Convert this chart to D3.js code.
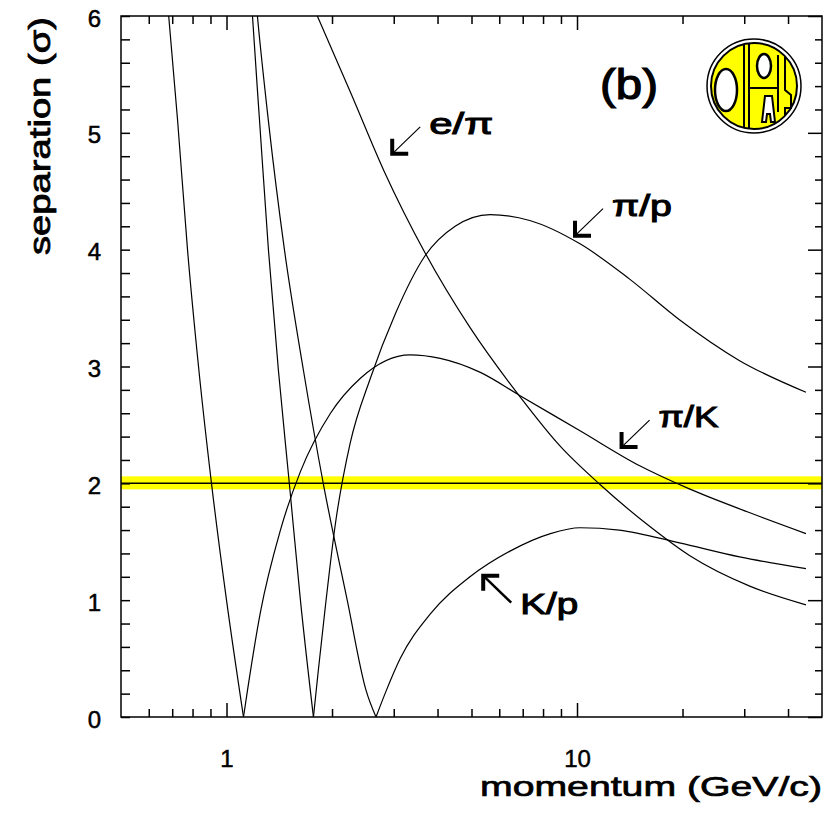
<!DOCTYPE html>
<html>
<head>
<meta charset="utf-8">
<script src="https://cdn.jsdelivr.net/npm/d3@7"></script>
<style>
body { margin: 0; background: #fff; }
svg { display: block; }
text { font-family: "Liberation Sans", Arial, sans-serif; fill: #000; }
</style>
</head>
<body>
<svg id="chart"></svg>
<script>
// separation curves, [momentum GeV/c, separation sigma]
var piKLow  = [[0.66, 6.5], [0.684, 6.0], [0.725, 5.11], [0.774, 4.0], [0.832, 3.0], [0.906, 2.0], [1.0, 1.0], [1.118, 0]];
var piKHigh = [[1.118, 0], [1.148, 0.23], [1.25, 0.9], [1.425, 1.6], [1.625, 2.1], [1.98, 2.6], [2.41, 2.9], [3.34, 3.1],
               [4.07, 3.07], [5.3, 2.95], [6.88, 2.75], [10.2, 2.45], [15.1, 2.15], [21.0, 1.95], [31.0, 1.75], [45, 1.57]];
var piPLow  = [[1.16, 6.5], [1.186, 6.0], [1.242, 5.11], [1.317, 4.0], [1.406, 2.97], [1.512, 1.99], [1.625, 1.0], [1.77, 0]];
var piPHigh = [[1.77, 0], [1.828, 0.4], [1.915, 0.95], [2.044, 1.65], [2.256, 2.35], [2.573, 2.9], [3.03, 3.45], [3.69, 3.95],
               [4.49, 4.2], [5.65, 4.3], [7.33, 4.25], [10.2, 4.05], [14.1, 3.75], [19.6, 3.4], [29.1, 3.05], [45, 2.78]];
var kPLow   = [[1.2, 6.3], [1.225, 6.0], [1.317, 5.1], [1.463, 4.0], [1.657, 2.97], [1.888, 2.0], [2.21, 1.0], [2.5, 0.23], [2.67, 0]];
var kPHigh  = [[2.67, 0], [2.86, 0.23], [3.13, 0.5], [3.81, 0.88], [4.95, 1.2], [6.44, 1.42], [8.4, 1.57], [10.2, 1.62],
               [13.2, 1.6], [19.6, 1.49], [29.1, 1.37], [45, 1.27]];
var ePi     = [[1.625, 6.33], [1.816, 6.0], [2.256, 5.35], [2.818, 4.67], [3.69, 3.97], [4.96, 3.33], [6.88, 2.74], [8.94, 2.32],
               [11.63, 1.99], [16.14, 1.63], [20.99, 1.38], [31.1, 1.12], [45, 0.96]];

var xMajorTicks = [1, 10];
var xMinorTicks = [0.6, 0.7, 0.8, 0.9, 2, 3, 4, 5, 6, 7, 8, 9, 20, 30, 40];
var yMajorTicks = [0, 1, 2, 3, 4, 5, 6];
var yMinorTicks = d3.range(0.2, 6, 0.2).filter(function(v) { return Math.abs(v - Math.round(v)) > 0.01; });
var cutLevel = 2;

// curve labels: arrow tip on the chart (data units), arrow direction, label width
var labels = [
	{ text: "e/\u03c0", tip: [2.97, 4.82], dir: [1, -1], len: 64 },
	{ text: "\u03c0/p", tip: [9.87, 4.12], dir: [1, -1], len: 60 },
	{ text: "\u03c0/K", tip: [13.4, 2.31], dir: [1, -1], len: 60 },
	{ text: "K/p", tip: [5.40, 1.21], dir: [1, 1], len: 58 }
];

var width = 834, height = 816;
var svg = d3.select("#chart").attr("width", width).attr("height", height);

var x = d3.scaleLog().domain([0.5, 50]).range([121, 822]);
var y = d3.scaleLinear().domain([0, 6]).range([717, 16]);

svg.append("clipPath").attr("id", "plot")
	.append("rect")
	.attr("x", x.range()[0]).attr("y", y.range()[1])
	.attr("width", x.range()[1] - x.range()[0])
	.attr("height", y.range()[0] - y.range()[1]);

// the 2 sigma band
svg.append("rect")
	.attr("x", x(0.5)).attr("width", x(50) - x(0.5))
	.attr("y", y(cutLevel) - 7).attr("height", 13)
	.attr("fill", "#ffff00");
svg.append("line")
	.attr("x1", x(0.5)).attr("x2", x(50))
	.attr("y1", y(cutLevel)).attr("y2", y(cutLevel))
	.attr("stroke", "#000").attr("stroke-width", 1.5);

// curves
var line = d3.line()
	.x(function(d) { return x(d[0]); })
	.y(function(d) { return y(d[1]); })
	.curve(d3.curveMonotoneX);

svg.append("g").attr("clip-path", "url(#plot)")
	.selectAll("path")
	.data([piKLow, piKHigh, piPLow, piPHigh, kPLow, kPHigh, ePi])
	.enter()
	.append("path")
	.attr("d", line)
	.attr("fill", "none")
	.attr("stroke", "#000")
	.attr("stroke-width", 1.2);

// axes: ticks point inwards
function ticks(axis, pos, values, size, fmt) {
	var g = svg.append("g")
		.attr("transform", pos)
		.call(axis.tickValues(values).tickSize(-size).tickSizeOuter(0).tickFormat(fmt || ""));
	g.select(".domain").remove();
	g.selectAll("line").attr("stroke", "#000").attr("stroke-width", 1.5);
	return g;
}

var bx = ticks(d3.axisBottom(x), "translate(0,717)", xMajorTicks, 14, d3.format("d"));
ticks(d3.axisBottom(x), "translate(0,717)", xMinorTicks, 8);
ticks(d3.axisTop(x), "translate(0,16)", xMajorTicks, 14);
ticks(d3.axisTop(x), "translate(0,16)", xMinorTicks, 8);
var ly = ticks(d3.axisLeft(y), "translate(121,0)", yMajorTicks, 9, d3.format("d"));
ticks(d3.axisLeft(y), "translate(121,0)", yMinorTicks, 9);
ticks(d3.axisRight(y), "translate(822,0)", yMajorTicks, 14);
ticks(d3.axisRight(y), "translate(822,0)", yMinorTicks, 7);

bx.selectAll("text").attr("y", 50).attr("dy", 0).attr("font-size", 24)
	.attr("stroke", "#000").attr("stroke-width", 0.5);
ly.selectAll("text").attr("x", -20).attr("dy", 10).attr("font-size", 24)
	.attr("stroke", "#000").attr("stroke-width", 0.5);

// frame
svg.append("rect")
	.attr("x", x(0.5)).attr("y", y(6))
	.attr("width", x(50) - x(0.5)).attr("height", y(0) - y(6))
	.attr("fill", "none").attr("stroke", "#000").attr("stroke-width", 1.5);

// axis titles
svg.append("text")
	.attr("x", 822).attr("y", 796)
	.attr("text-anchor", "end")
	.attr("font-size", 28)
	.attr("stroke", "#000").attr("stroke-width", 0.7)
	.attr("textLength", 342).attr("lengthAdjust", "spacingAndGlyphs")
	.text("momentum (GeV/c)");

svg.append("text")
	.attr("transform", "translate(50,136) rotate(-90)")
	.attr("text-anchor", "middle")
	.attr("font-size", 30)
	.attr("stroke", "#000").attr("stroke-width", 0.8)
	.attr("textLength", 238).attr("lengthAdjust", "spacingAndGlyphs")
	.text("separation (\u03c3)");

svg.append("text")
	.attr("x", 629).attr("y", 99)
	.attr("text-anchor", "middle")
	.attr("font-size", 42)
	.attr("stroke", "#000").attr("stroke-width", 1.2)
	.attr("textLength", 58).attr("lengthAdjust", "spacingAndGlyphs")
	.text("(b)");

// curve labels with arrows
labels.forEach(function(l) {
	var tx = x(l.tip[0]), ty = y(l.tip[1]);
	var g = svg.append("g");
	g.append("line")
		.attr("x1", tx).attr("y1", ty)
		.attr("x2", tx + 28 * l.dir[0]).attr("y2", ty + 27 * l.dir[1])
		.attr("stroke", "#000").attr("stroke-width", l.dir[1] > 0 ? 2.5 : 1.2);
	g.append("path")
		.attr("d", "M" + tx + "," + (ty + 15 * l.dir[1]) + "L" + tx + "," + ty + "L" + (tx + 16 * l.dir[0]) + "," + ty)
		.attr("fill", "none").attr("stroke", "#000").attr("stroke-width", 4);
	g.append("text")
		.attr("x", tx + 37 * l.dir[0])
		.attr("y", l.dir[1] < 0 ? ty - 20 : ty + 38)
		.attr("font-size", 29)
		.attr("stroke", "#000").attr("stroke-width", 1)
		.attr("textLength", l.len).attr("lengthAdjust", "spacingAndGlyphs")
		.text(l.text);
});

// OPAL logo
var logo = svg.append("g").attr("transform", "translate(754,86)")
	.attr("stroke", "#000").attr("stroke-width", 1.5);
logo.append("circle").attr("r", 47).attr("fill", "#fff");
logo.append("circle").attr("r", 43).attr("fill", "#ffff00").attr("stroke-width", 2);
logo.append("ellipse").attr("cx", -28).attr("cy", 4).attr("rx", 11).attr("ry", 21)
	.attr("fill", "#fff").attr("stroke-width", 2.5);
logo.append("line").attr("x1", -10).attr("x2", -10).attr("y1", -41).attr("y2", 41).attr("stroke-width", 2);
logo.append("line").attr("x1", -5).attr("x2", -5).attr("y1", -42).attr("y2", 42).attr("stroke-width", 2);
logo.append("ellipse").attr("cx", 10).attr("cy", -20).attr("rx", 7).attr("ry", 12)
	.attr("fill", "#fff").attr("stroke-width", 2.5);
logo.append("line").attr("x1", -5).attr("x2", 24).attr("y1", 2).attr("y2", 2).attr("stroke-width", 2);
logo.append("path").attr("fill", "#fff").attr("stroke-width", 2)
	.attr("d", "M8,36 L11,10 L18,10 L21,36 L17,36 L16,28 L13,28 L12,36Z");
logo.append("path").attr("fill", "none").attr("stroke-width", 2)
	.attr("d", "M24,-31 L24,26 M31,-30 L31,4 L37,9 L37,22 L31,22 L31,30");
</script>
</body>
</html>
